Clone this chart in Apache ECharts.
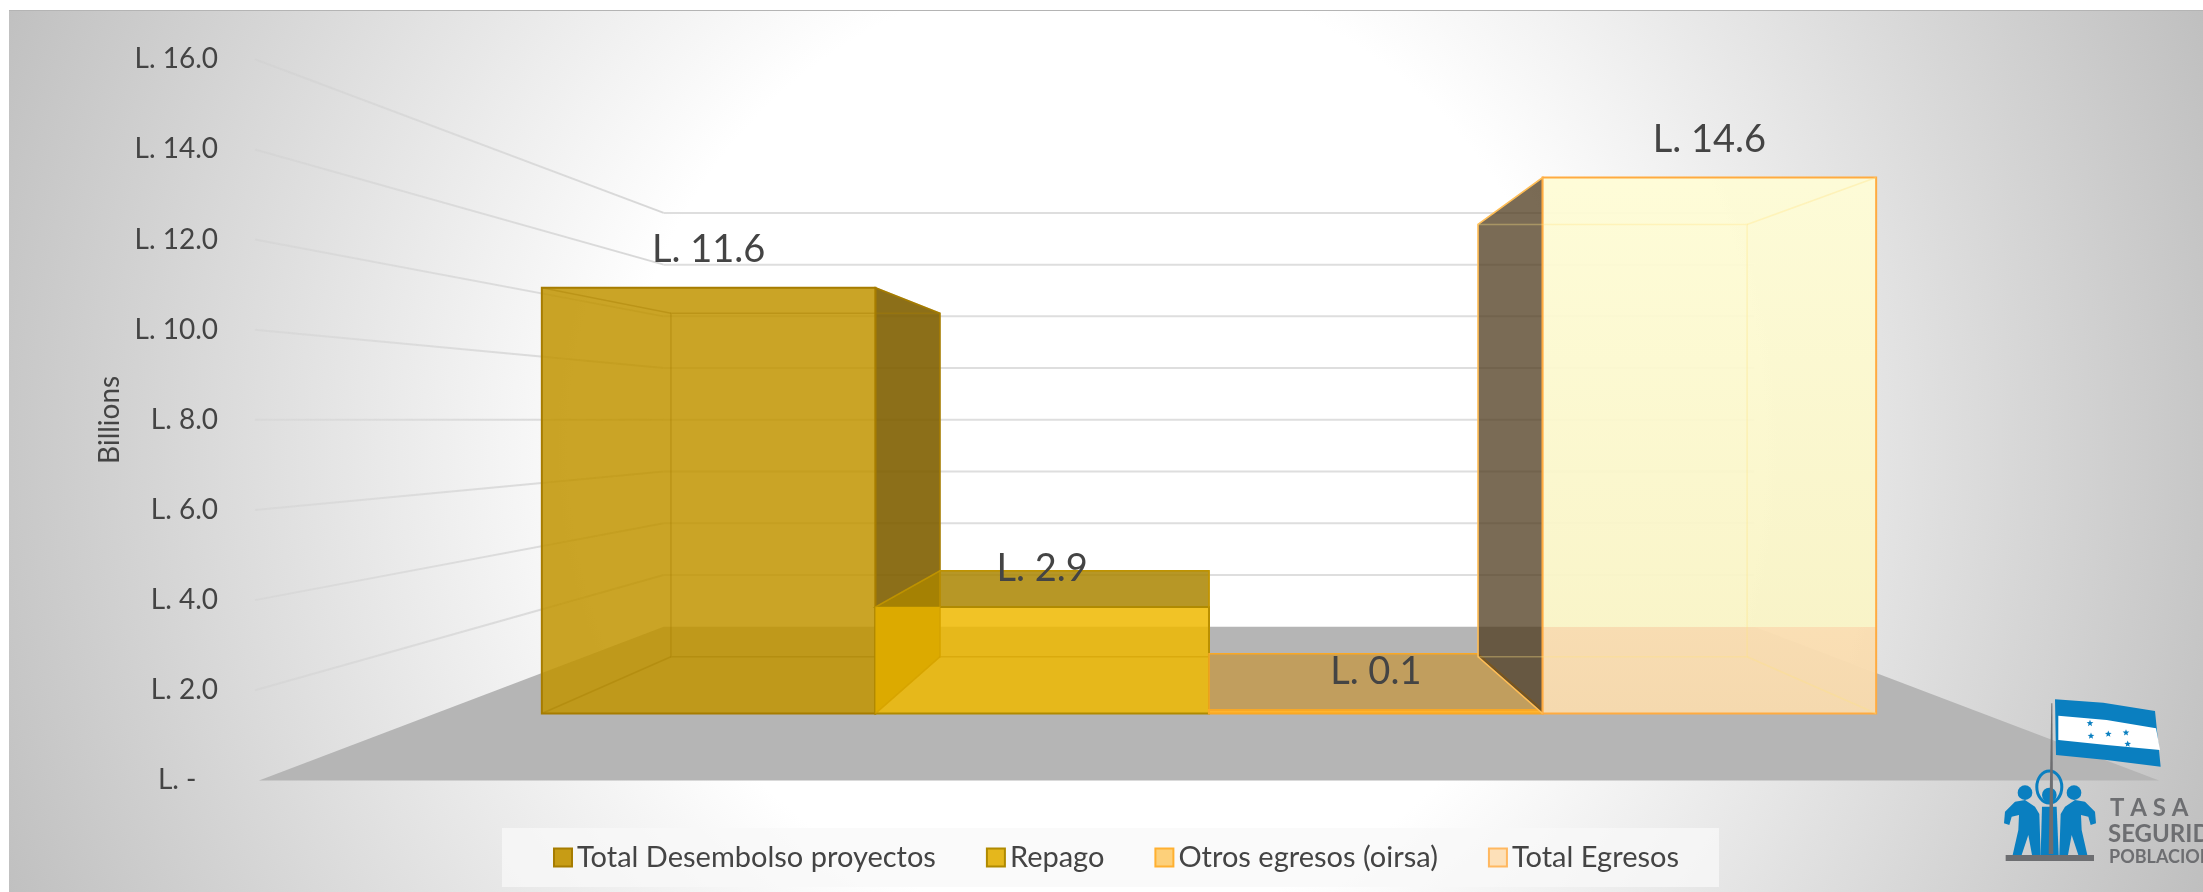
<!DOCTYPE html>
<html lang="es">
<head>
    <meta charset="UTF-8">
    <title>Egresos</title>
    <script src="https://cdn.jsdelivr.net/npm/echarts@6/dist/echarts.min.js"></script>
    <style>
        html, body { margin: 0; padding: 0; background: #fff; overflow: hidden; }
        #bg {
            position: absolute; left: 9px; top: 10px; width: 2194px; height: 882px;
            border-top: 1px solid #b4b4b4; box-sizing: border-box;
            background: radial-gradient(circle 1190px at 1091px 436px, #fff 40%, #bfbfbf 100%);
        }
        #main { position: absolute; left: 0; top: 0; width: 2203px; height: 892px; }
    </style>
</head>
<body>
    <div id="bg"></div>
    <div id="main"></div>

    <script type="text/javascript">
        var categories = ['Total Desembolso proyectos', 'Repago', 'Otros egresos (oirsa)', 'Total Egresos'];
        var values = [11.6, 2.9, 0.1, 14.6];
        var yTicks = [0, 2, 4, 6, 8, 10, 12, 14, 16];

        // depth planes of the fake 3d box, 1 = front of the floor (the plane the axes live on)
        var DEPTH_WALL = 0.574, DEPTH_BAR_BACK = 0.657, DEPTH_BAR_FRONT = 0.8146;
        var WALL_HALF = 2.32;   // half width of floor, in category bands
        var FONT = 'Lato, "Open Sans", sans-serif';
        var TEXT = '#444444';

        var barStyles = [
            {front: 'rgba(193,148,0,0.85)', edge: '#a67c00', outer: 'rgba(127,95,0,0.9)', top: null, inner: null, line: 'rgba(166,124,0,0.4)', icon: '#c79c15', iconEdge: '#a67c00'},
            {front: 'rgba(238,185,0,0.85)', edge: '#b08a00', outer: null, top: 'rgba(170,133,0,0.85)', inner: '#dcaa00', line: 'rgba(205,155,0,0.5)', icon: '#e5b71c', iconEdge: '#b08a00'},
            {front: '#ffb52e', edge: '#f9a825', outer: null, top: 'rgba(196,152,72,0.8)', inner: null, line: 'rgba(249,168,37,0.8)', icon: '#fdd07a', iconEdge: '#ffb030'},
            {front: 'peach', edge: '#ffab40', outer: 'rgba(78,58,28,0.75)', top: null, inner: null, line: 'rgba(255,225,130,0.35)', icon: '#fde0b8', iconEdge: '#ffb860'}
        ];

        function poly(pts, fill, stroke, lw) {
            return {type: 'polygon', shape: {points: pts}, style: {fill: fill || 'none', stroke: stroke || 'none', lineWidth: lw || 0}};
        }
        function seg(a, b, stroke, lw) {
            return {type: 'line', shape: {x1: a[0], y1: a[1], x2: b[0], y2: b[1]}, style: {stroke: stroke, lineWidth: lw}};
        }

        // vanishing point: middle of the category axis, at the value where the lines go flat
        function vanish(api) {
            var a = api.coord([1, 8]), b = api.coord([2, 8]);
            return [(a[0] + b[0]) / 2, a[1]];
        }
        function proj(vp, x, y, k) {
            return [vp[0] + (x - vp[0]) * k, vp[1] + (y - vp[1]) * k];
        }

        function renderWalls(params, api) {
            var vp = vanish(api);
            var band = api.size([1, 0])[0];
            var xl = vp[0] - WALL_HALF * band, xr = vp[0] + WALL_HALF * band;
            var y0 = api.coord([0, 0])[1];
            var kids = [];
            kids.push(poly([[xl, y0], [xr, y0], proj(vp, xr, y0, DEPTH_WALL), proj(vp, xl, y0, DEPTH_WALL)], '#b5b5b5'));
            yTicks.forEach(function (t) {
                if (t === 0) return;
                var y = api.coord([0, t])[1];
                var a = [xl - 4, y], b = proj(vp, xl, y, DEPTH_WALL), c = proj(vp, xr, y, DEPTH_WALL);
                var fade = {type: 'linear', global: true, x: a[0], y: 0, x2: b[0], y2: 0, colorStops: [
                    {offset: 0, color: 'rgba(205,205,205,0.35)'}, {offset: 1, color: 'rgba(215,215,215,1)'}]};
                kids.push(seg(a, b, fade, 2));
                kids.push(seg(b, c, '#dedede', 2));
            });
            return {type: 'group', children: kids};
        }

        function renderBar(params, api) {
            var i = api.value(0), v = api.value(1);
            var st = barStyles[i];
            var vp = vanish(api);
            var c = api.coord([i, v]), b = api.coord([i, 0]);
            var w = api.size([1, 0])[0];
            var xl = c[0] - w / 2, xr = c[0] + w / 2;
            var F = DEPTH_BAR_FRONT, K = DEPTH_BAR_BACK;
            var ftl = proj(vp, xl, c[1], F), ftr = proj(vp, xr, c[1], F), fbl = proj(vp, xl, b[1], F), fbr = proj(vp, xr, b[1], F);
            var btl = proj(vp, xl, c[1], K), btr = proj(vp, xr, c[1], K), bbl = proj(vp, xl, b[1], K), bbr = proj(vp, xr, b[1], K);
            var towardsCentre = c[0] < vp[0];   // that side face is the one we look at from outside
            var kids = [];

            if (st.outer) {
                kids.push(towardsCentre ? poly([ftr, btr, bbr, fbr], st.outer, st.edge, 1.5) : poly([ftl, btl, bbl, fbl], st.outer, st.edge, 1.5));
            }
            if (st.top) kids.push(poly([ftl, ftr, btr, btl], st.top, st.edge, 1.5));

            var fill = st.front;
            if (fill === 'peach') {
                // floor seen through the pale bar turns peach
                var floorBack = proj(vp, xl, b[1], DEPTH_WALL)[1];
                var t = (floorBack - ftl[1]) / (fbl[1] - ftl[1]);
                fill = {type: 'linear', global: true, x: ftl[0], y: ftl[1], x2: ftl[0], y2: fbl[1], colorStops: [
                    {offset: 0, color: 'rgba(254,252,214,0.95)'}, {offset: t, color: 'rgba(249,244,198,0.95)'},
                    {offset: t, color: 'rgba(250,222,178,0.97)'}, {offset: 1, color: 'rgba(247,218,174,0.97)'}]};
            }
            kids.push(poly([ftl, ftr, fbr, fbl], fill, st.edge, 2));
            // inner side only shows below the top of the front face
            if (st.inner) kids.push(poly([ftl, [bbl[0], ftl[1]], bbl, fbl], st.inner));

            // edges of the box seen through the front
            if (v > 1) {
                kids.push(poly([btl, btr, bbr, bbl], 'none', st.line, 1.5));
                [[ftl, btl], [ftr, btr], [fbl, bbl], [fbr, bbr]].forEach(function (e) {
                    kids.push(seg(e[0], e[1], st.line, 1.5));
                });
            }

            kids.push({type: 'text', style: {
                text: 'L. ' + v.toFixed(1), x: (ftl[0] + ftr[0]) / 2, y: ftl[1] - 38,
                align: 'center', verticalAlign: 'middle', font: '38px ' + FONT, fill: TEXT
            }});
            return {type: 'group', children: kids};
        }

        function L(pts) {
            return pts.map(function (p) { return [1950 + p[0] / 3, 660 + p[1] / 3]; });
        }
        function star(cx, cy, r) {
            var pts = [];
            for (var n = 0; n < 10; n++) {
                var rr = n % 2 ? r * 0.42 : r, a = -Math.PI / 2 + n * Math.PI / 5;
                pts.push([cx + rr * Math.cos(a), cy + rr * Math.sin(a)]);
            }
            return pts;
        }
        var BLUE = '#0a7fc0', GREY = '#6d6e71';
        function gPoly(pts, fill) {
            return {type: 'polygon', z: 50, silent: true, shape: {points: pts}, style: {fill: fill}};
        }
        function gCircle(cx, cy, r) {
            var p = L([[cx, cy]])[0];
            return {type: 'circle', z: 50, silent: true, shape: {cx: p[0], cy: p[1], r: r / 3}, style: {fill: BLUE}};
        }
        function gText(text, x, y, size, spacing) {
            return {type: 'text', z: 50, silent: true, x: x, y: y, style: {text: text, font: 'bold ' + size + 'px ' + FONT, fill: GREY, verticalAlign: 'middle', letterSpacing: spacing || 0}};
        }
        var personLeft = [[162, 490], [165, 455], [195, 425], [225, 420], [255, 440], [268, 462], [272, 585], [246, 585], [235, 525], [215, 585], [188, 585], [205, 510], [207, 465], [185, 470], [178, 495]];
        var personRight = personLeft.map(function (p) { return [600 - p[0], p[1]]; });
        var logo = [
            gPoly(L([[315, 118], [460, 128], [615, 153], [632, 320], [470, 300], [318, 285]]), BLUE),
            gPoly(L([[325, 167], [470, 180], [618, 205], [630, 270], [470, 255], [325, 240]]), '#ffffff'),
            gPoly(star(2090, 723.3, 3.5), BLUE), gPoly(star(2091, 736, 3.5), BLUE), gPoly(star(2108.3, 734, 3.5), BLUE),
            gPoly(star(2126, 732.7, 3.5), BLUE), gPoly(star(2127.7, 744, 3.5), BLUE),
            gPoly(L(personLeft), BLUE), gPoly(L(personRight), BLUE),
            gPoly(L([[276, 440], [320, 440], [326, 585], [272, 585]]), BLUE),
            gCircle(225, 398, 22), gCircle(298, 405, 22), gCircle(372, 398, 22),
            {type: 'ellipse', z: 50, silent: true, shape: {cx: 2049.3, cy: 787, rx: 12.5, ry: 16}, style: {fill: 'none', stroke: BLUE, lineWidth: 3}},
            gPoly(L([[304, 130], [307, 130], [310, 582], [296, 582]]), GREY),
            gPoly(L([[167, 585], [432, 585], [432, 603], [167, 603]]), GREY),
            gText('T A S A', 2110, 808, 24, 3),
            gText('SEGURIDAD', 2108, 834, 24, 2),
            gText('POBLACIONAL', 2109, 857, 18, 1.5)
        ];

        var barSeries = categories.map(function (name, idx) {
            return {
                name: name,
                type: 'custom',
                renderItem: renderBar,
                silent: true,
                clip: false,
                z: 3 + idx,
                encode: {x: 0, y: 1},
                itemStyle: {color: barStyles[idx].icon, borderColor: barStyles[idx].iconEdge, borderWidth: 2},
                data: [[idx, values[idx]]]
            };
        });

        var myChart = echarts.init(document.getElementById('main'));

        var option = {
            animation: false,
            backgroundColor: 'transparent',
            textStyle: {fontFamily: FONT},
            grid: {left: 390, width: 1638, top: 59.3, bottom: 111.6},
            legend: {
                data: categories.map(function (name, idx) {
                    return {name: name, itemStyle: {color: barStyles[idx].icon, borderColor: barStyles[idx].iconEdge, borderWidth: 2}};
                }),
                left: 502,
                top: 828,
                padding: [15, 40, 15, 51],
                itemGap: 50,
                itemWidth: 18,
                itemHeight: 18,
                icon: 'rect',
                selectedMode: false,
                backgroundColor: 'rgba(248,248,248,0.75)',
                textStyle: {fontFamily: FONT, fontSize: 29, color: TEXT}
            },
            xAxis: {
                type: 'category',
                data: categories,
                show: false
            },
            yAxis: {
                type: 'value',
                min: 0,
                max: 16,
                interval: 2,
                name: 'Billions',
                nameLocation: 'middle',
                nameGap: 256,
                nameRotate: 90,
                nameTextStyle: {fontFamily: FONT, fontSize: 28, color: TEXT},
                axisLine: {show: false},
                axisTick: {show: false},
                splitLine: {show: false},
                axisLabel: {
                    margin: 172,
                    fontFamily: FONT,
                    fontSize: 28,
                    color: TEXT,
                    formatter: function (value) {
                        return value === 0 ? 'L. -   ' : 'L. ' + value.toFixed(1);
                    }
                }
            },
            graphic: logo,
            series: [{
                type: 'custom',
                name: 'walls',
                renderItem: renderWalls,
                silent: true,
                clip: false,
                z: 1,
                encode: {x: 0, y: 1},
                data: [[0, 0]]
            }].concat(barSeries)
        };

        myChart.setOption(option);
    </script>
</body>
</html>
